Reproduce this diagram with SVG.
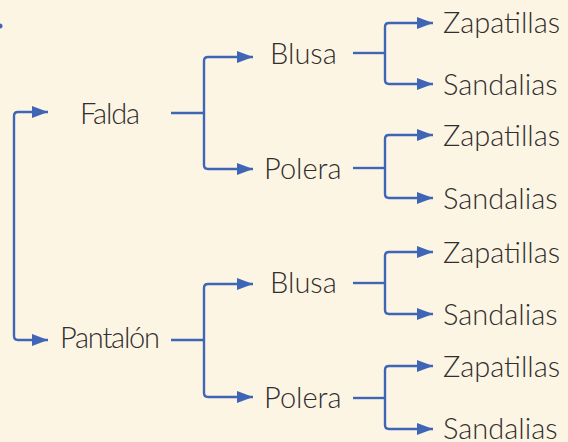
<svg xmlns="http://www.w3.org/2000/svg" width="568" height="442" viewBox="0 0 568 442">
<style>
.bg{fill:#FDF5E4}
.c{fill:none;stroke:#3F66B6;stroke-width:2.4;stroke-linejoin:round}
.t{font-family:Lato,"Open Sans","Liberation Sans",sans-serif;font-weight:300;font-size:29px;fill:#302E2E}
</style>
<defs>
<marker id="ah" markerUnits="userSpaceOnUse" markerWidth="17" markerHeight="12" refX="16" refY="6" orient="auto">
<path d="M0,0 L16,6 L0,12 Z" fill="#3F66B6"/>
</marker>
</defs>
<rect class="bg" width="568" height="442"/>
<circle cx="0" cy="26" r="2.5" fill="#3F66B6"/>
<g id="connectors">
<path class="c" d="M14,116 V336 Q14,340 18,340 H48" marker-end="url(#ah)"/>
<path class="c" d="M14,116 Q14,112 18,112 H48" marker-end="url(#ah)"/>
<path class="c" d="M171,113 H204"/>
<path class="c" d="M204,113 V61 Q204,57 208,57 H253" marker-end="url(#ah)"/>
<path class="c" d="M204,113 V165 Q204,169 208,169 H253" marker-end="url(#ah)"/>
<path class="c" d="M171,340 H204"/>
<path class="c" d="M204,340 V288 Q204,284 208,284 H253" marker-end="url(#ah)"/>
<path class="c" d="M204,340 V393 Q204,397 208,397 H253" marker-end="url(#ah)"/>
<path class="c" d="M353,53 H385"/>
<path class="c" d="M385,53 V27 Q385,23 389,23 H433" marker-end="url(#ah)"/>
<path class="c" d="M385,53 V80 Q385,84 389,84 H433" marker-end="url(#ah)"/>
<path class="c" d="M353,168 H385"/>
<path class="c" d="M385,168 V139 Q385,135 389,135 H433" marker-end="url(#ah)"/>
<path class="c" d="M385,168 V194 Q385,198 389,198 H433" marker-end="url(#ah)"/>
<path class="c" d="M353,283 H385"/>
<path class="c" d="M385,283 V256 Q385,252 389,252 H433" marker-end="url(#ah)"/>
<path class="c" d="M385,283 V310 Q385,314 389,314 H433" marker-end="url(#ah)"/>
<path class="c" d="M353,398 H385"/>
<path class="c" d="M385,398 V370 Q385,366 389,366 H433" marker-end="url(#ah)"/>
<path class="c" d="M385,398 V425 Q385,429 389,429 H433" marker-end="url(#ah)"/>
</g>
<g id="falda"><text class="t" x="80" y="124" textLength="60">Falda</text></g>
<g id="pantalon"><text class="t" x="60" y="348" textLength="100">Pantalón</text></g>
<g id="blusa1"><text class="t" x="270" y="64">Blusa</text></g>
<g id="polera1"><text class="t" x="264" y="179">Polera</text></g>
<g id="blusa2"><text class="t" x="270" y="293">Blusa</text></g>
<g id="polera2"><text class="t" x="264" y="408">Polera</text></g>
<g id="zap1"><text class="t" x="443" y="33">Zapatillas</text></g>
<g id="san1"><text class="t" x="443" y="95">Sandalias</text></g>
<g id="zap2"><text class="t" x="443" y="146">Zapatillas</text></g>
<g id="san2"><text class="t" x="443" y="209">Sandalias</text></g>
<g id="zap3"><text class="t" x="443" y="263">Zapatillas</text></g>
<g id="san3"><text class="t" x="443" y="325">Sandalias</text></g>
<g id="zap4"><text class="t" x="443" y="377">Zapatillas</text></g>
<g id="san4"><text class="t" x="443" y="439">Sandalias</text></g>
</svg>
